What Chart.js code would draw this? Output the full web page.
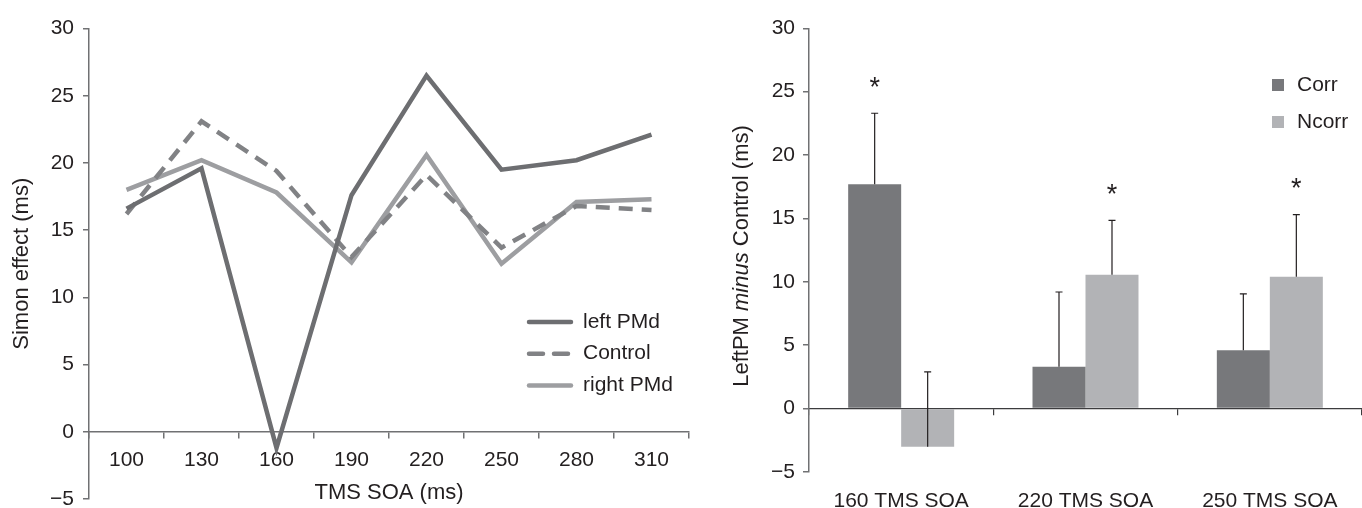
<!DOCTYPE html>
<html>
<head>
<meta charset="utf-8">
<script src="https://cdn.jsdelivr.net/npm/chart.js@4.4.1/dist/chart.umd.min.js"></script>
<style>
  html, body { margin: 0; padding: 0; background: #fff; overflow: hidden; }
  #wrap { position: relative; width: 1362px; height: 508px; }
  .panel { position: absolute; top: 0; height: 508px; }
  #left-panel { left: 0; width: 700px; }
  #right-panel { left: 700px; width: 662px; }
</style>
</head>
<body>
<div id="wrap">
  <div class="panel" id="left-panel"><canvas id="simon-chart"></canvas></div>
  <div class="panel" id="right-panel"><canvas id="diff-chart"></canvas></div>
</div>
<script>
// left panel: Simon effect per TMS SOA
const soaLabels = ['100', '130', '160', '190', '220', '250', '280', '310'];
const leftPMd  = [16.6, 19.6, -1.2, 17.6, 26.5, 19.5, 20.2, 22.1];
const control  = [16.2, 23.1, 19.4, 13.0, 19.1, 13.7, 16.8, 16.5];
const rightPMd = [18.0, 20.2, 17.8, 12.6, 20.6, 12.5, 17.1, 17.3];

// right panel: LeftPM minus Control
const diffLabels = ['160 TMS SOA', '220 TMS SOA', '250 TMS SOA'];
const corr     = [17.7, 3.3, 4.6];
const ncorr    = [-3.0, 10.55, 10.4];
const corrErr  = [5.6, 5.9, 4.45];
const ncorrErr = [5.9, 4.3, 4.9];
const corrSig  = [true, false, false];
const ncorrSig = [false, true, true];

const TEXT = '#231f20';
const AXIS = '#707173';
const FONT = "'Liberation Sans', Arial, sans-serif";

Chart.defaults.font.family = FONT;
Chart.defaults.color = TEXT;
Chart.defaults.animation = false;

const minusTick = v => (v < 0 ? '\u2212' + Math.abs(v) : v);

// legend drawn inside the plot, at a fixed spot
const boxLegend = {
    id: 'boxLegend',
    afterDraw(chart, args, opts) {
        const ctx = chart.ctx;
        ctx.save();
        ctx.font = `${opts.fontSize}px ${FONT}`;
        ctx.textBaseline = 'middle';
        ctx.fillStyle = TEXT;
        chart.data.datasets.forEach((ds, i) => {
            const y = opts.y + i * opts.rowGap;
            if (opts.kind === 'line') {
                ctx.save();
                ctx.strokeStyle = ds.borderColor;
                ctx.lineWidth = ds.borderWidth;
                ctx.lineCap = 'round';
                ctx.setLineDash(ds.borderDash ? opts.dash : []);
                ctx.beginPath();
                ctx.moveTo(opts.x, y);
                ctx.lineTo(opts.x + opts.sample, y);
                ctx.stroke();
                ctx.restore();
            } else {
                ctx.fillStyle = ds.backgroundColor;
                ctx.fillRect(opts.x, y - opts.sample / 2, opts.sample, opts.sample);
                ctx.fillStyle = TEXT;
            }
            ctx.fillText(ds.label, opts.x + opts.sample + opts.textGap, y);
        });
        ctx.restore();
    }
};

// error bars + asterisks on the bar chart
const errorBars = {
    id: 'errorBars',
    afterDatasetsDraw(chart) {
        const ctx = chart.ctx;
        const yScale = chart.scales.y;
        ctx.save();
        chart.data.datasets.forEach((ds, i) => {
            const meta = chart.getDatasetMeta(i);
            meta.data.forEach((bar, j) => {
                const top = yScale.getPixelForValue(ds.data[j] + ds.errors[j]);
                ctx.strokeStyle = TEXT;
                ctx.lineWidth = 1.2;
                ctx.beginPath();
                ctx.moveTo(bar.x, bar.y);
                ctx.lineTo(bar.x, top);
                ctx.moveTo(bar.x - 3.5, top);
                ctx.lineTo(bar.x + 3.5, top);
                ctx.stroke();
                if (ds.sig[j]) {
                    ctx.fillStyle = TEXT;
                    ctx.font = `27px ${FONT}`;
                    ctx.textAlign = 'center';
                    ctx.textBaseline = 'middle';
                    ctx.fillText('*', bar.x, top - 25);
                }
            });
        });
        ctx.restore();
    }
};

// y title with the italic "minus"
const mixedTitle = {
    id: 'mixedTitle',
    afterDraw(chart, args, opts) {
        const ctx = chart.ctx;
        const parts = opts.parts;
        ctx.save();
        ctx.translate(opts.x, opts.y);
        ctx.rotate(-Math.PI / 2);
        ctx.textBaseline = 'middle';
        ctx.fillStyle = TEXT;
        let total = 0;
        parts.forEach(p => {
            ctx.font = `${p.italic ? 'italic ' : ''}${opts.fontSize}px ${FONT}`;
            p.w = ctx.measureText(p.text).width;
            total += p.w;
        });
        let x = -total / 2;
        parts.forEach(p => {
            ctx.font = `${p.italic ? 'italic ' : ''}${opts.fontSize}px ${FONT}`;
            ctx.fillText(p.text, x, 0);
            x += p.w;
        });
        ctx.restore();
    }
};

new Chart(document.getElementById('simon-chart'), {
    type: 'line',
    data: {
        labels: soaLabels,
        datasets: [
            { label: 'left PMd', data: leftPMd, borderColor: '#6d6e71', borderWidth: 4.5, pointRadius: 0, borderJoinStyle: 'miter' },
            { label: 'Control', data: control, borderColor: '#818285', borderWidth: 4.5, pointRadius: 0, borderDash: [14, 9], borderJoinStyle: 'miter' },
            { label: 'right PMd', data: rightPMd, borderColor: '#9d9ea1', borderWidth: 4.5, pointRadius: 0, borderJoinStyle: 'miter' }
        ]
    },
    options: {
        responsive: true,
        maintainAspectRatio: false,
        layout: { padding: { left: 0, top: 28.5, right: 11, bottom: 9 } },
        plugins: {
            legend: { display: false },
            tooltip: { enabled: false },
            boxLegend: { kind: 'line', x: 529, y: 322, rowGap: 31.7, sample: 42, textGap: 12, fontSize: 21, dash: [14, 11] }
        },
        scales: {
            x: {
                position: { y: 0 },
                offset: true,
                ticks: { font: { size: 21 }, padding: 10, color: TEXT },
                grid: { offset: true, drawOnChartArea: false, tickLength: 6, color: AXIS, lineWidth: 1.5 },
                border: { color: AXIS, width: 1.5 },
                title: { display: true, text: 'TMS SOA (ms)', font: { size: 22 }, color: TEXT, padding: { top: -3, bottom: 0 } },
                afterFit: s => { s.paddingLeft = 0; s.paddingRight = 0; }
            },
            y: {
                min: -5,
                max: 30,
                ticks: { stepSize: 5, font: { size: 21 }, padding: 9, color: TEXT, callback: minusTick },
                grid: { drawOnChartArea: false, tickLength: 6, color: AXIS, lineWidth: 1.5 },
                border: { color: AXIS, width: 1.5 },
                title: { display: true, text: 'Simon effect (ms)', font: { size: 22 }, color: TEXT, padding: { top: 9, bottom: 0 } },
                afterFit: s => { s.width = 89; s.paddingTop = 0; s.paddingBottom = 0; }
            }
        }
    },
    plugins: [boxLegend]
});

new Chart(document.getElementById('diff-chart'), {
    type: 'bar',
    data: {
        labels: diffLabels,
        datasets: [
            { label: 'Corr', data: corr, errors: corrErr, sig: corrSig, backgroundColor: '#77787b', borderWidth: 0 },
            { label: 'Ncorr', data: ncorr, errors: ncorrErr, sig: ncorrSig, backgroundColor: '#b2b3b6', borderWidth: 0 }
        ]
    },
    options: {
        responsive: true,
        maintainAspectRatio: false,
        layout: { padding: { left: 0, top: 28.3, right: 0, bottom: 36 } },
        datasets: { bar: { categoryPercentage: 0.575, barPercentage: 1 } },
        plugins: {
            legend: { display: false },
            tooltip: { enabled: false },
            boxLegend: { kind: 'box', x: 572, y: 85, rowGap: 37, sample: 12, textGap: 13, fontSize: 21 },
            mixedTitle: {
                x: 42, y: 256, fontSize: 22,
                parts: [{ text: 'LeftPM ' }, { text: 'minus', italic: true }, { text: ' Control (ms)' }]
            }
        },
        scales: {
            x: {
                position: { y: 0 },
                ticks: { font: { size: 21 }, padding: 74, color: TEXT },
                grid: { drawOnChartArea: false, tickLength: 6, color: '#3c3c3e', lineWidth: 1.2 },
                border: { color: '#3c3c3e', width: 1.2 },
                afterFit: s => { s.paddingLeft = 0; s.paddingRight = 0; }
            },
            y: {
                min: -5,
                max: 30,
                ticks: { stepSize: 5, font: { size: 21 }, padding: 8, color: TEXT, callback: minusTick },
                grid: { drawOnChartArea: false, tickLength: 6, color: AXIS, lineWidth: 1.5 },
                border: { color: AXIS, width: 1.5 },
                afterFit: s => { s.width = 109; s.paddingTop = 0; s.paddingBottom = 0; }
            }
        }
    },
    plugins: [errorBars, boxLegend, mixedTitle]
});
</script>
</body>
</html>
